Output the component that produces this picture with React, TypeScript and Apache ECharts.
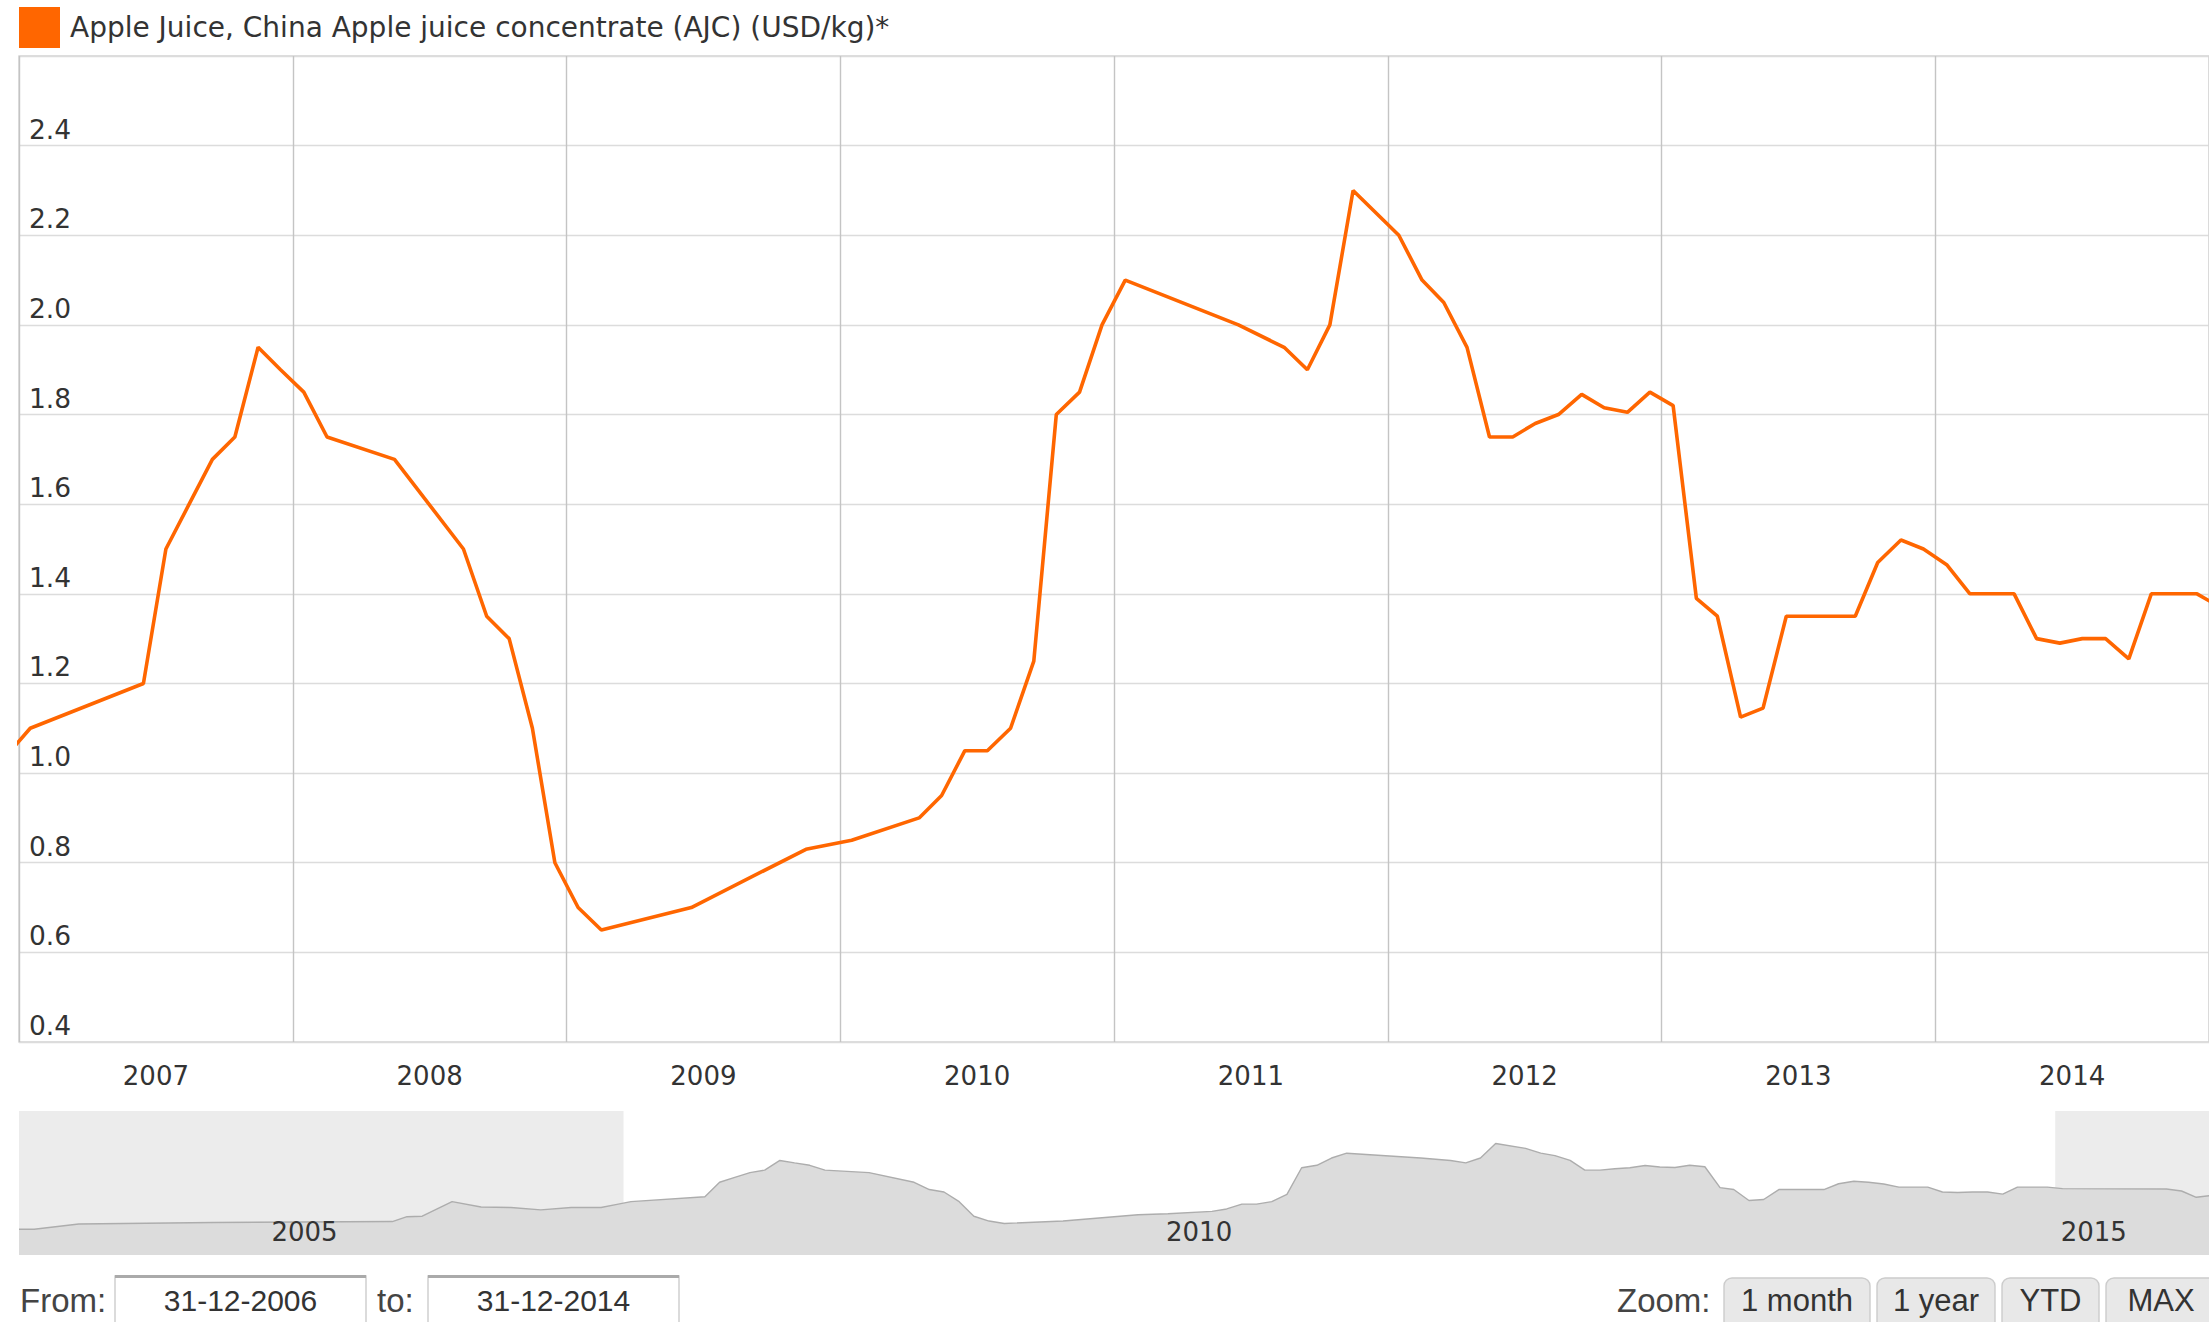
import React, { useEffect, useRef } from "react";
import * as echarts from "echarts";

const seriesName = "Apple Juice, China Apple juice concentrate (AJC) (USD/kg)*";

// history before the visible window (seen only in the navigator)
const earlyDates = [
  "2003-08-15", "2003-09-15", "2003-12-15", "2004-09-15", "2005-09-15", "2005-10-15",
  "2005-11-15", "2006-01-15", "2006-03-15", "2006-05-15", "2006-07-15", "2006-09-15",
  "2006-11-15", "2006-12-15",
];
const earlyValues = [0.53, 0.53, 0.64, 0.67, 0.69, 0.79, 0.8, 1.1, 0.99, 0.98, 0.93, 0.98, 0.98, 1.04];

// visible window 2007-2014
const mainDates = [
  "2007-01-15", "2007-06-15", "2007-07-15", "2007-08-15", "2007-09-15", "2007-10-15",
  "2007-11-15", "2007-12-15", "2008-01-15", "2008-02-15", "2008-05-15", "2008-08-15",
  "2008-09-15", "2008-10-15", "2008-11-15", "2008-12-15", "2009-01-15", "2009-02-15",
  "2009-06-15", "2009-11-15", "2010-01-15", "2010-04-15", "2010-05-15", "2010-06-15",
  "2010-07-15", "2010-08-15", "2010-09-15", "2010-10-15", "2010-11-15", "2010-12-15",
  "2011-01-15", "2011-06-15", "2011-08-15", "2011-09-15", "2011-10-15", "2011-11-15",
  "2012-01-15", "2012-02-15", "2012-03-15", "2012-04-15", "2012-05-15", "2012-06-15",
  "2012-07-15", "2012-08-15", "2012-09-15", "2012-10-15", "2012-11-15", "2012-12-15",
  "2013-01-15", "2013-02-15", "2013-03-15", "2013-04-15", "2013-05-15", "2013-06-15",
  "2013-09-15", "2013-10-15", "2013-11-15", "2013-12-15", "2014-01-15", "2014-02-15",
  "2014-04-15", "2014-05-15", "2014-06-15", "2014-07-15", "2014-08-15", "2014-09-15",
  "2014-10-15", "2014-12-15",
];
const mainValues = [
  1.1, 1.2, 1.5, 1.6, 1.7, 1.75,
  1.95, 1.9, 1.85, 1.75, 1.7, 1.5,
  1.35, 1.3, 1.1, 0.8, 0.7, 0.65,
  0.7, 0.83, 0.85, 0.9, 0.95, 1.05,
  1.05, 1.1, 1.25, 1.8, 1.85, 2.0,
  2.1, 2.0, 1.95, 1.9, 2.0, 2.3,
  2.2, 2.1, 2.05, 1.95, 1.75, 1.75,
  1.78, 1.8, 1.845, 1.815, 1.805, 1.85,
  1.82, 1.39, 1.35, 1.125, 1.145, 1.35,
  1.35, 1.47, 1.52, 1.5, 1.465, 1.4,
  1.4, 1.3, 1.29, 1.3, 1.3, 1.255,
  1.4, 1.4,
];

// after the visible window (navigator only)
const lateDates = ["2015-01-15", "2015-08-15", "2015-09-15", "2015-10-15", "2015-11-15"];
const lateValues = [1.37, 1.36, 1.32, 1.19, 1.23];

const yearCategories = ["2007", "2008", "2009", "2010", "2011", "2012", "2013", "2014"];
const navigatorYears = ["2005", "2010", "2015"];

const viewFrom = "2006-12-31";
const viewTo = "2014-12-31";
const navFrom = "2003-08-15";
const navTo = "2015-11-10";

const fromLabel = "31-12-2006";
const toLabel = "31-12-2014";
const zoomButtons = ["1 month", "1 year", "YTD", "MAX"];

const allDates = [...earlyDates, ...mainDates, ...lateDates];
const allValues = [...earlyValues, ...mainValues, ...lateValues];
const fullData = allDates.map((d, i) => [d, allValues[i]]);

const ORANGE = "#ff6600";
const UI_FONT = "Liberation Sans";

function buildGraphic() {
  const g: any[] = [];
  const textY = 1300;
  const labelFont = `33px "${UI_FONT}"`;
  const valueFont = `30px "${UI_FONT}"`;
  g.push({
    type: "text", x: 20, y: textY,
    style: { text: "From:", font: labelFont, fill: "#444", align: "left", verticalAlign: "middle" },
  });
  const boxes = [
    { x: 115, w: 251, label: fromLabel },
    { x: 428, w: 251, label: toLabel },
  ];
  boxes.forEach((b) => {
    g.push({
      type: "rect", shape: { x: b.x, y: 1276, width: b.w, height: 60 },
      style: { fill: "#fff", stroke: "#cccccc", lineWidth: 1.4 },
    });
    g.push({
      type: "line", shape: { x1: b.x, y1: 1276.5, x2: b.x + b.w, y2: 1276.5 },
      style: { stroke: "#aaaaaa", lineWidth: 3 },
    });
    g.push({
      type: "text", x: b.x + b.w / 2, y: textY,
      style: { text: b.label, font: valueFont, fill: "#333", align: "center", verticalAlign: "middle" },
    });
  });
  g.push({
    type: "text", x: 377, y: textY,
    style: { text: "to:", font: labelFont, fill: "#444", align: "left", verticalAlign: "middle" },
  });
  g.push({
    type: "text", x: 1617, y: textY,
    style: { text: "Zoom:", font: labelFont, fill: "#444", align: "left", verticalAlign: "middle" },
  });
  const btnX = [1724, 1877, 2002, 2106];
  const btnW = [146, 118, 97, 110];
  zoomButtons.forEach((label, i) => {
    g.push({
      type: "rect", shape: { x: btnX[i], y: 1278, width: btnW[i], height: 62, r: 8 },
      style: { fill: "#e8e8e8", stroke: "#cccccc", lineWidth: 1.4 },
    });
    g.push({
      type: "text", x: btnX[i] + btnW[i] / 2, y: textY,
      style: { text: label, font: `31px "${UI_FONT}"`, fill: "#333", align: "center", verticalAlign: "middle" },
    });
  });
  return g;
}

export default function App() {
  const ref = useRef<HTMLDivElement>(null);

  useEffect(() => {
    if (!ref.current) return;
    const chart = echarts.init(ref.current, undefined, { renderer: "svg" });

    chart.setOption({
      animation: false,
      backgroundColor: "#ffffff",
      textStyle: { fontFamily: "DejaVu Sans" },
      legend: {
        left: 19,
        top: 7,
        padding: 0,
        itemWidth: 41,
        itemHeight: 41,
        icon: "rect",
        selectedMode: false,
        data: [{ name: seriesName, itemStyle: { color: ORANGE } }],
        textStyle: { fontSize: 28, color: "#333", padding: [0, 0, 0, 5], fontFamily: "DejaVu Sans" },
      },
      grid: [
        { left: 19, top: 56, right: 0, height: 986, show: true, borderColor: "#d4d4d4", borderWidth: 1.4, backgroundColor: "#fff" },
        { left: 19, top: 1111, right: 0, height: 144, show: false },
      ],
      xAxis: [
        {
          type: "time", gridIndex: 0, min: viewFrom, max: viewTo,
          axisLabel: { show: false }, axisLine: { show: false }, axisTick: { show: false }, splitLine: { show: false },
        },
        {
          type: "category", gridIndex: 0, data: yearCategories, boundaryGap: true, position: "bottom",
          axisLine: { show: false }, axisTick: { show: false },
          axisLabel: { fontSize: 26, color: "#333", margin: 21, fontFamily: "DejaVu Sans" },
          splitLine: { show: true, lineStyle: { color: "#c4c4c4", width: 1.4 } },
        },
        {
          type: "time", gridIndex: 1, min: navFrom, max: navTo,
          axisLine: { show: false }, axisTick: { show: false }, splitLine: { show: false },
          axisLabel: { show: false },
        },
      ],
      yAxis: [
        {
          type: "value", gridIndex: 0, min: 0.4, max: 2.6, interval: 0.2,
          axisLine: { show: false }, axisTick: { show: false },
          axisLabel: {
            inside: true, margin: 10, verticalAlign: "bottom", fontSize: 26.5, color: "#333",
            padding: [0, 0, 3, 0],
            showMaxLabel: false, formatter: (v: number) => v.toFixed(1), fontFamily: "DejaVu Sans",
          },
          splitLine: { show: true, lineStyle: { color: "#dcdcdc", width: 1.4 } },
        },
        { type: "value", gridIndex: 1, min: 0, max: 2.97, show: false },
      ],
      series: [
        {
          name: seriesName, type: "line", xAxisIndex: 0, yAxisIndex: 0, data: fullData,
          symbol: "none", showSymbol: false, clip: true, z: 3,
          lineStyle: { color: ORANGE, width: 3.6 }, itemStyle: { color: ORANGE },
        },
        {
          name: "navigator", type: "line", xAxisIndex: 2, yAxisIndex: 1, data: fullData,
          symbol: "none", showSymbol: false, clip: true, silent: true, z: 2,
          lineStyle: { color: "#adadad", width: 1.4 }, areaStyle: { color: "#dcdcdc", opacity: 1 },
        },
        {
          name: "mask", type: "line", xAxisIndex: 2, yAxisIndex: 1, data: fullData,
          symbol: "none", showSymbol: false, silent: true, z: 4,
          lineStyle: { opacity: 0 },
          markArea: {
            silent: true,
            itemStyle: { color: "rgba(0,0,0,0.075)" },
            data: [
              [{ xAxis: navFrom }, { xAxis: viewFrom }],
              [{ xAxis: viewTo }, { xAxis: navTo }],
            ],
          },
          markPoint: {
            silent: true,
            symbol: "circle",
            symbolSize: 0,
            itemStyle: { color: "transparent" },
            label: {
              show: true, position: "right", distance: 5, formatter: "{b}",
              fontSize: 26, color: "#333", fontFamily: "DejaVu Sans",
            },
            data: navigatorYears.map((y) => ({ name: y, coord: [`${y}-01-01`, 0.48] })),
          },
        },
      ],
      graphic: buildGraphic(),
    });

    return () => chart.dispose();
  }, []);

  return (
    <div
      ref={ref}
      style={{ position: "fixed", left: 0, top: 0, width: 2209, height: 1322, background: "#fff" }}
    />
  );
}
